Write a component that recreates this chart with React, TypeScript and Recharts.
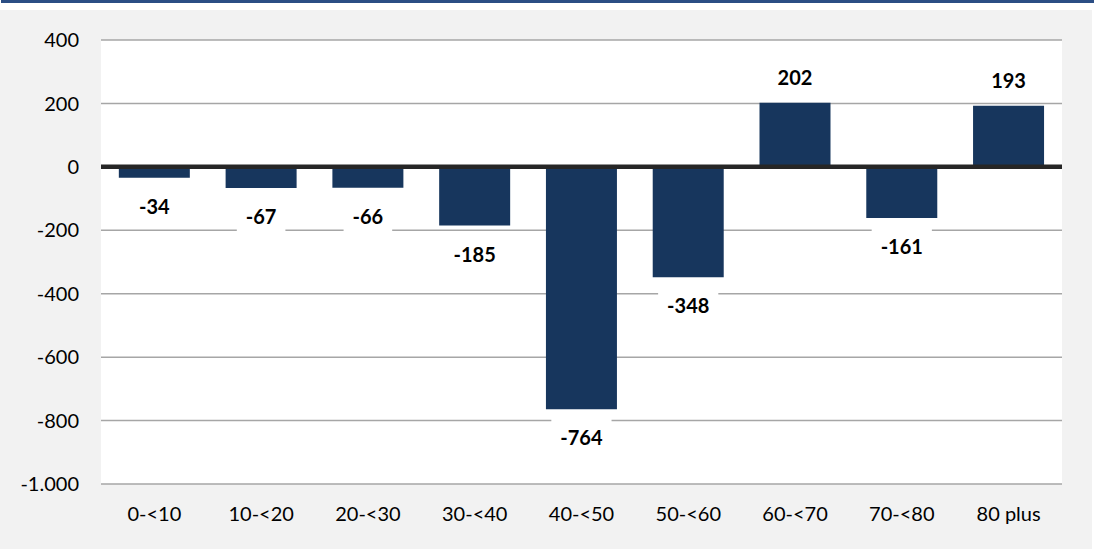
import React from "react";
import { BarChart, Bar, XAxis, YAxis, CartesianGrid, ReferenceLine, LabelList } from "recharts";

const categories = ["0-<10", "10-<20", "20-<30", "30-<40", "40-<50", "50-<60", "60-<70", "70-<80", "80 plus"];
const values = [-34, -67, -66, -185, -764, -348, 202, -161, 193];
const yTicks = [400, 200, 0, -200, -400, -600, -800, -1000];

const data = categories.map((c, i) => ({ name: c, value: values[i] }));

const fmt = (v: number) => {
  const s = Math.abs(v).toString().replace(/\B(?=(\d{3})+(?!\d))/g, ".");
  return (v < 0 ? "-" : "") + s;
};

const FONT = "Lato, 'Open Sans', sans-serif";

const ValueLabel = (props: any) => {
  const { x, y, width, height, value } = props;
  const top = Math.min(y, y + height);
  const bottom = Math.max(y, y + height);
  const cx = x + width / 2;
  const cy = value < 0 ? bottom + 28 : top - 26;
  const txt = fmt(value);
  let w = 0;
  for (const ch of txt) w += ch === "-" ? 7.4 : 11.6;
  const bw = w + 18;
  return (
    <g>
      <rect x={cx - bw / 2} y={cy - 19} width={bw} height={38} fill="#ffffff" />
      <text x={cx} y={cy} textAnchor="middle" dominantBaseline="central" fontFamily={FONT} fontSize={20} fontWeight={700} fill="#000">
        {txt}
      </text>
    </g>
  );
};

export default function App() {
  return (
    <div style={{ position: "relative", width: 1094, height: 549, background: "#ffffff", overflow: "hidden" }}>
      <style>{"body{margin:0}"}</style>
      <div style={{ position: "absolute", left: 1, top: 0, width: 1093, height: 3, background: "#2b4e84" }} />
      <div style={{ position: "absolute", left: 0, top: 10, width: 1092, height: 539, background: "#f2f2f2" }}>
        <BarChart
          width={1092}
          height={539}
          data={data}
          margin={{ top: 30, right: 30, bottom: 0, left: 0 }}
          barCategoryGap="16.7%"
        >
          <CartesianGrid vertical={false} stroke="#a6a6a6" strokeWidth={1.5} fill="#ffffff" />
          <XAxis
            dataKey="name"
            height={65}
            axisLine={false}
            tickLine={false}
            tickSize={0}
            tickMargin={23}
            interval={0}
            tick={{ fontFamily: FONT, fontSize: 20, fill: "#000" }}
          />
          <YAxis
            width={101}
            domain={[-1000, 400]}
            ticks={yTicks}
            interval={0}
            axisLine={false}
            tickLine={false}
            tickSize={0}
            tickMargin={22}
            tickFormatter={fmt}
            tick={{ fontFamily: FONT, fontSize: 20, fill: "#000" }}
          />
          <Bar dataKey="value" fill="#17365d" isAnimationActive={false}>
            <LabelList dataKey="value" content={ValueLabel} />
          </Bar>
          <ReferenceLine y={0} stroke="#262626" strokeWidth={4.5} />
        </BarChart>
      </div>
    </div>
  );
}
